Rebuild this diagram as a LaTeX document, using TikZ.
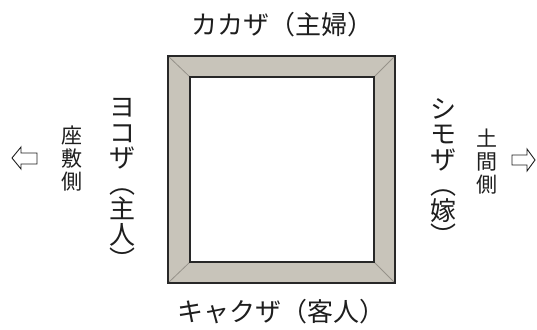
\documentclass[tikz,border=0pt]{standalone}
\usepackage{fontspec}
\newfontfamily\jp{Noto Sans CJK JP}
\definecolor{framefill}{RGB}{200,196,186}
\definecolor{framedark}{RGB}{40,40,40}
\definecolor{miter}{RGB}{150,146,138}
\definecolor{txt}{RGB}{30,30,30}
\tikzset{
  lbl/.style={inner sep=0pt,text=txt,font=\jp\fontsize{26}{25.5}\selectfont},
  vlbl/.style={lbl,align=center},
  slbl/.style={inner sep=0pt,text=txt,align=center,font=\jp\fontsize{21}{23}\selectfont},
  hollow/.style={draw=txt,line width=0.9pt,fill=white,line join=miter},
  miterline/.style={draw=miter,line width=0.8pt}
}
\begin{document}
\begin{tikzpicture}[x=1pt,y=-1pt]
\useasboundingbox (0,0) rectangle (537,329);
% frame
\coordinate (o1) at (168,56);
\coordinate (o2) at (395,56);
\coordinate (o3) at (395,283);
\coordinate (o4) at (168,283);
\coordinate (i1) at (190,77);
\coordinate (i2) at (374,77);
\coordinate (i3) at (374,262);
\coordinate (i4) at (190,262);
\fill[framefill] (o1) -- (o2) -- (o3) -- (o4) -- cycle;
\draw[miterline] (o1) -- (i1) (o2) -- (i2) (o3) -- (i3) (o4) -- (i4);
\draw[draw=framedark,line width=1.1pt,fill=white] (i1) -- (i2) -- (i3) -- (i4) -- cycle;
\draw[draw=framedark,line width=1.8pt] (o1) -- (o2) -- (o3) -- (o4) -- cycle;
% labels
\node[lbl] (top) at (282,25) {カカザ（主婦）};
\node[lbl] (bot) at (281,312) {キャクザ（客人）};
\node[vlbl] (left) at (122,184) {ヨ\\コ\\ザ\\︵\\主\\人\\︶};
\node[vlbl] (right) at (443,172) {シ\\モ\\ザ\\︵\\嫁\\︶};
\node[slbl] (zashiki) at (72,159) {座\\敷\\側};
\node[slbl] (doma) at (487,162) {土\\間\\側};
% arrows
\draw[hollow] (12,158) -- (21,147) -- (21,153) -- (37,153) -- (37,164) -- (21,164) -- (21,169) -- cycle;
\draw[hollow] (535,160) -- (527,149) -- (527,155) -- (512,155) -- (512,165) -- (527,165) -- (527,171) -- cycle;
\end{tikzpicture}
\end{document}
